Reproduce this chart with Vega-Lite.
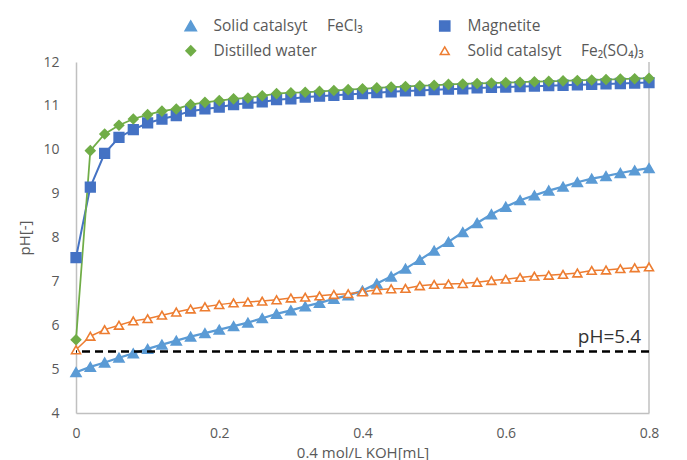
{
 "$schema": "https://vega.github.io/schema/vega-lite/v6.json",
 "width": 573,
 "height": 351,
 "autosize": {"type": "none"},
 "padding": {"left": 76, "top": 62, "right": 38, "bottom": 47},
 "config": {"view": {"stroke": null}, "font": "Open Sans"},
 "data": {"values": [
  {"series": "Solid catalsyt\u2003 FeCl₃", "x": 0, "pH": 4.93},
  {"series": "Solid catalsyt\u2003 FeCl₃", "x": 0.02, "pH": 5.05},
  {"series": "Solid catalsyt\u2003 FeCl₃", "x": 0.04, "pH": 5.15},
  {"series": "Solid catalsyt\u2003 FeCl₃", "x": 0.06, "pH": 5.26},
  {"series": "Solid catalsyt\u2003 FeCl₃", "x": 0.08, "pH": 5.36},
  {"series": "Solid catalsyt\u2003 FeCl₃", "x": 0.1, "pH": 5.46},
  {"series": "Solid catalsyt\u2003 FeCl₃", "x": 0.12, "pH": 5.56},
  {"series": "Solid catalsyt\u2003 FeCl₃", "x": 0.14, "pH": 5.65},
  {"series": "Solid catalsyt\u2003 FeCl₃", "x": 0.16, "pH": 5.74},
  {"series": "Solid catalsyt\u2003 FeCl₃", "x": 0.18, "pH": 5.82},
  {"series": "Solid catalsyt\u2003 FeCl₃", "x": 0.2, "pH": 5.9},
  {"series": "Solid catalsyt\u2003 FeCl₃", "x": 0.22, "pH": 5.98},
  {"series": "Solid catalsyt\u2003 FeCl₃", "x": 0.24, "pH": 6.06},
  {"series": "Solid catalsyt\u2003 FeCl₃", "x": 0.26, "pH": 6.16},
  {"series": "Solid catalsyt\u2003 FeCl₃", "x": 0.28, "pH": 6.26},
  {"series": "Solid catalsyt\u2003 FeCl₃", "x": 0.3, "pH": 6.34},
  {"series": "Solid catalsyt\u2003 FeCl₃", "x": 0.32, "pH": 6.43},
  {"series": "Solid catalsyt\u2003 FeCl₃", "x": 0.34, "pH": 6.51},
  {"series": "Solid catalsyt\u2003 FeCl₃", "x": 0.36, "pH": 6.6},
  {"series": "Solid catalsyt\u2003 FeCl₃", "x": 0.38, "pH": 6.68},
  {"series": "Solid catalsyt\u2003 FeCl₃", "x": 0.4, "pH": 6.79},
  {"series": "Solid catalsyt\u2003 FeCl₃", "x": 0.42, "pH": 6.95},
  {"series": "Solid catalsyt\u2003 FeCl₃", "x": 0.44, "pH": 7.11},
  {"series": "Solid catalsyt\u2003 FeCl₃", "x": 0.46, "pH": 7.29},
  {"series": "Solid catalsyt\u2003 FeCl₃", "x": 0.48, "pH": 7.49},
  {"series": "Solid catalsyt\u2003 FeCl₃", "x": 0.5, "pH": 7.7},
  {"series": "Solid catalsyt\u2003 FeCl₃", "x": 0.52, "pH": 7.9},
  {"series": "Solid catalsyt\u2003 FeCl₃", "x": 0.54, "pH": 8.12},
  {"series": "Solid catalsyt\u2003 FeCl₃", "x": 0.56, "pH": 8.33},
  {"series": "Solid catalsyt\u2003 FeCl₃", "x": 0.58, "pH": 8.53},
  {"series": "Solid catalsyt\u2003 FeCl₃", "x": 0.6, "pH": 8.7},
  {"series": "Solid catalsyt\u2003 FeCl₃", "x": 0.62, "pH": 8.85},
  {"series": "Solid catalsyt\u2003 FeCl₃", "x": 0.64, "pH": 8.96},
  {"series": "Solid catalsyt\u2003 FeCl₃", "x": 0.66, "pH": 9.07},
  {"series": "Solid catalsyt\u2003 FeCl₃", "x": 0.68, "pH": 9.16},
  {"series": "Solid catalsyt\u2003 FeCl₃", "x": 0.7, "pH": 9.26},
  {"series": "Solid catalsyt\u2003 FeCl₃", "x": 0.72, "pH": 9.34},
  {"series": "Solid catalsyt\u2003 FeCl₃", "x": 0.74, "pH": 9.4},
  {"series": "Solid catalsyt\u2003 FeCl₃", "x": 0.76, "pH": 9.47},
  {"series": "Solid catalsyt\u2003 FeCl₃", "x": 0.78, "pH": 9.53},
  {"series": "Solid catalsyt\u2003 FeCl₃", "x": 0.8, "pH": 9.58},
  {"series": "Magnetite", "x": 0, "pH": 7.54},
  {"series": "Magnetite", "x": 0.02, "pH": 9.15},
  {"series": "Magnetite", "x": 0.04, "pH": 9.92},
  {"series": "Magnetite", "x": 0.06, "pH": 10.28},
  {"series": "Magnetite", "x": 0.08, "pH": 10.46},
  {"series": "Magnetite", "x": 0.1, "pH": 10.61},
  {"series": "Magnetite", "x": 0.12, "pH": 10.7},
  {"series": "Magnetite", "x": 0.14, "pH": 10.78},
  {"series": "Magnetite", "x": 0.16, "pH": 10.88},
  {"series": "Magnetite", "x": 0.18, "pH": 10.93},
  {"series": "Magnetite", "x": 0.2, "pH": 10.97},
  {"series": "Magnetite", "x": 0.22, "pH": 11.03},
  {"series": "Magnetite", "x": 0.24, "pH": 11.06},
  {"series": "Magnetite", "x": 0.26, "pH": 11.09},
  {"series": "Magnetite", "x": 0.28, "pH": 11.14},
  {"series": "Magnetite", "x": 0.3, "pH": 11.16},
  {"series": "Magnetite", "x": 0.32, "pH": 11.2},
  {"series": "Magnetite", "x": 0.34, "pH": 11.22},
  {"series": "Magnetite", "x": 0.36, "pH": 11.24},
  {"series": "Magnetite", "x": 0.38, "pH": 11.26},
  {"series": "Magnetite", "x": 0.4, "pH": 11.28},
  {"series": "Magnetite", "x": 0.42, "pH": 11.3},
  {"series": "Magnetite", "x": 0.44, "pH": 11.32},
  {"series": "Magnetite", "x": 0.46, "pH": 11.34},
  {"series": "Magnetite", "x": 0.48, "pH": 11.35},
  {"series": "Magnetite", "x": 0.5, "pH": 11.37},
  {"series": "Magnetite", "x": 0.52, "pH": 11.38},
  {"series": "Magnetite", "x": 0.54, "pH": 11.39},
  {"series": "Magnetite", "x": 0.56, "pH": 11.41},
  {"series": "Magnetite", "x": 0.58, "pH": 11.42},
  {"series": "Magnetite", "x": 0.6, "pH": 11.43},
  {"series": "Magnetite", "x": 0.62, "pH": 11.44},
  {"series": "Magnetite", "x": 0.64, "pH": 11.45},
  {"series": "Magnetite", "x": 0.66, "pH": 11.46},
  {"series": "Magnetite", "x": 0.68, "pH": 11.47},
  {"series": "Magnetite", "x": 0.7, "pH": 11.48},
  {"series": "Magnetite", "x": 0.72, "pH": 11.49},
  {"series": "Magnetite", "x": 0.74, "pH": 11.5},
  {"series": "Magnetite", "x": 0.76, "pH": 11.51},
  {"series": "Magnetite", "x": 0.78, "pH": 11.52},
  {"series": "Magnetite", "x": 0.8, "pH": 11.53},
  {"series": "Distilled water", "x": 0, "pH": 5.67},
  {"series": "Distilled water", "x": 0.02, "pH": 9.98},
  {"series": "Distilled water", "x": 0.04, "pH": 10.36},
  {"series": "Distilled water", "x": 0.06, "pH": 10.56},
  {"series": "Distilled water", "x": 0.08, "pH": 10.7},
  {"series": "Distilled water", "x": 0.1, "pH": 10.8},
  {"series": "Distilled water", "x": 0.12, "pH": 10.88},
  {"series": "Distilled water", "x": 0.14, "pH": 10.93},
  {"series": "Distilled water", "x": 0.16, "pH": 11.03},
  {"series": "Distilled water", "x": 0.18, "pH": 11.08},
  {"series": "Distilled water", "x": 0.2, "pH": 11.12},
  {"series": "Distilled water", "x": 0.22, "pH": 11.16},
  {"series": "Distilled water", "x": 0.24, "pH": 11.18},
  {"series": "Distilled water", "x": 0.26, "pH": 11.23},
  {"series": "Distilled water", "x": 0.28, "pH": 11.28},
  {"series": "Distilled water", "x": 0.3, "pH": 11.3},
  {"series": "Distilled water", "x": 0.32, "pH": 11.31},
  {"series": "Distilled water", "x": 0.34, "pH": 11.33},
  {"series": "Distilled water", "x": 0.36, "pH": 11.35},
  {"series": "Distilled water", "x": 0.38, "pH": 11.37},
  {"series": "Distilled water", "x": 0.4, "pH": 11.39},
  {"series": "Distilled water", "x": 0.42, "pH": 11.41},
  {"series": "Distilled water", "x": 0.44, "pH": 11.43},
  {"series": "Distilled water", "x": 0.46, "pH": 11.44},
  {"series": "Distilled water", "x": 0.48, "pH": 11.46},
  {"series": "Distilled water", "x": 0.5, "pH": 11.47},
  {"series": "Distilled water", "x": 0.52, "pH": 11.49},
  {"series": "Distilled water", "x": 0.54, "pH": 11.5},
  {"series": "Distilled water", "x": 0.56, "pH": 11.51},
  {"series": "Distilled water", "x": 0.58, "pH": 11.52},
  {"series": "Distilled water", "x": 0.6, "pH": 11.53},
  {"series": "Distilled water", "x": 0.62, "pH": 11.54},
  {"series": "Distilled water", "x": 0.64, "pH": 11.55},
  {"series": "Distilled water", "x": 0.66, "pH": 11.56},
  {"series": "Distilled water", "x": 0.68, "pH": 11.57},
  {"series": "Distilled water", "x": 0.7, "pH": 11.58},
  {"series": "Distilled water", "x": 0.72, "pH": 11.59},
  {"series": "Distilled water", "x": 0.74, "pH": 11.6},
  {"series": "Distilled water", "x": 0.76, "pH": 11.61},
  {"series": "Distilled water", "x": 0.78, "pH": 11.62},
  {"series": "Distilled water", "x": 0.8, "pH": 11.63},
  {"series": "Solid catalsyt\u2003 Fe₂(SO₄)₃", "x": 0, "pH": 5.44},
  {"series": "Solid catalsyt\u2003 Fe₂(SO₄)₃", "x": 0.02, "pH": 5.75},
  {"series": "Solid catalsyt\u2003 Fe₂(SO₄)₃", "x": 0.04, "pH": 5.9},
  {"series": "Solid catalsyt\u2003 Fe₂(SO₄)₃", "x": 0.06, "pH": 6.0},
  {"series": "Solid catalsyt\u2003 Fe₂(SO₄)₃", "x": 0.08, "pH": 6.1},
  {"series": "Solid catalsyt\u2003 Fe₂(SO₄)₃", "x": 0.1, "pH": 6.15},
  {"series": "Solid catalsyt\u2003 Fe₂(SO₄)₃", "x": 0.12, "pH": 6.23},
  {"series": "Solid catalsyt\u2003 Fe₂(SO₄)₃", "x": 0.14, "pH": 6.3},
  {"series": "Solid catalsyt\u2003 Fe₂(SO₄)₃", "x": 0.16, "pH": 6.37},
  {"series": "Solid catalsyt\u2003 Fe₂(SO₄)₃", "x": 0.18, "pH": 6.42},
  {"series": "Solid catalsyt\u2003 Fe₂(SO₄)₃", "x": 0.2, "pH": 6.47},
  {"series": "Solid catalsyt\u2003 Fe₂(SO₄)₃", "x": 0.22, "pH": 6.51},
  {"series": "Solid catalsyt\u2003 Fe₂(SO₄)₃", "x": 0.24, "pH": 6.53},
  {"series": "Solid catalsyt\u2003 Fe₂(SO₄)₃", "x": 0.26, "pH": 6.55},
  {"series": "Solid catalsyt\u2003 Fe₂(SO₄)₃", "x": 0.28, "pH": 6.58},
  {"series": "Solid catalsyt\u2003 Fe₂(SO₄)₃", "x": 0.3, "pH": 6.62},
  {"series": "Solid catalsyt\u2003 Fe₂(SO₄)₃", "x": 0.32, "pH": 6.64},
  {"series": "Solid catalsyt\u2003 Fe₂(SO₄)₃", "x": 0.34, "pH": 6.67},
  {"series": "Solid catalsyt\u2003 Fe₂(SO₄)₃", "x": 0.36, "pH": 6.7},
  {"series": "Solid catalsyt\u2003 Fe₂(SO₄)₃", "x": 0.38, "pH": 6.72},
  {"series": "Solid catalsyt\u2003 Fe₂(SO₄)₃", "x": 0.4, "pH": 6.76},
  {"series": "Solid catalsyt\u2003 Fe₂(SO₄)₃", "x": 0.42, "pH": 6.81},
  {"series": "Solid catalsyt\u2003 Fe₂(SO₄)₃", "x": 0.44, "pH": 6.83},
  {"series": "Solid catalsyt\u2003 Fe₂(SO₄)₃", "x": 0.46, "pH": 6.84},
  {"series": "Solid catalsyt\u2003 Fe₂(SO₄)₃", "x": 0.48, "pH": 6.9},
  {"series": "Solid catalsyt\u2003 Fe₂(SO₄)₃", "x": 0.5, "pH": 6.93},
  {"series": "Solid catalsyt\u2003 Fe₂(SO₄)₃", "x": 0.52, "pH": 6.94},
  {"series": "Solid catalsyt\u2003 Fe₂(SO₄)₃", "x": 0.54, "pH": 6.95},
  {"series": "Solid catalsyt\u2003 Fe₂(SO₄)₃", "x": 0.56, "pH": 6.98},
  {"series": "Solid catalsyt\u2003 Fe₂(SO₄)₃", "x": 0.58, "pH": 7.02},
  {"series": "Solid catalsyt\u2003 Fe₂(SO₄)₃", "x": 0.6, "pH": 7.05},
  {"series": "Solid catalsyt\u2003 Fe₂(SO₄)₃", "x": 0.62, "pH": 7.09},
  {"series": "Solid catalsyt\u2003 Fe₂(SO₄)₃", "x": 0.64, "pH": 7.12},
  {"series": "Solid catalsyt\u2003 Fe₂(SO₄)₃", "x": 0.66, "pH": 7.14},
  {"series": "Solid catalsyt\u2003 Fe₂(SO₄)₃", "x": 0.68, "pH": 7.16},
  {"series": "Solid catalsyt\u2003 Fe₂(SO₄)₃", "x": 0.7, "pH": 7.19},
  {"series": "Solid catalsyt\u2003 Fe₂(SO₄)₃", "x": 0.72, "pH": 7.25},
  {"series": "Solid catalsyt\u2003 Fe₂(SO₄)₃", "x": 0.74, "pH": 7.26},
  {"series": "Solid catalsyt\u2003 Fe₂(SO₄)₃", "x": 0.76, "pH": 7.29},
  {"series": "Solid catalsyt\u2003 Fe₂(SO₄)₃", "x": 0.78, "pH": 7.31},
  {"series": "Solid catalsyt\u2003 Fe₂(SO₄)₃", "x": 0.8, "pH": 7.33}
 ]},
 "layer": [
  {
   "data": {"values": [{"edge": 0.8}]},
   "mark": {"type": "rule", "stroke": "#c0c0c0", "strokeWidth": 1.5},
   "encoding": {"x": {"field": "edge", "type": "quantitative", "scale": {"domain": [0, 0.8], "nice": false}}}
  },
  {
   "mark": {"type": "line"},
   "encoding": {
    "x": {"field": "x", "type": "quantitative", "scale": {"domain": [0, 0.8], "nice": false},
     "axis": {"title": "0.4 mol/L KOH[mL]", "values": [0, 0.2, 0.4, 0.6, 0.8], "labelExpr": "format(datum.value, '~g')", "ticks": false, "grid": false, "labelFlush": false, "labelPadding": 13, "labelFontSize": 14, "labelColor": "#595959", "domainColor": "#c0c0c0", "domainWidth": 1.5, "titleFontSize": 15, "titleFontWeight": "normal", "titleColor": "#595959", "titlePadding": 5}},
    "y": {"field": "pH", "type": "quantitative", "scale": {"domain": [4, 12], "nice": false},
     "axis": {"title": "pH[-]", "values": [4, 5, 6, 7, 8, 9, 10, 11, 12], "ticks": false, "grid": false, "labelPadding": 17, "labelFontSize": 14, "labelColor": "#595959", "domainColor": "#c0c0c0", "domainWidth": 1.5, "titleFontSize": 15, "titleFontWeight": "normal", "titleColor": "#595959", "titlePadding": 10}},
    "stroke": {"field": "series", "type": "nominal", "scale": {"domain": ["Solid catalsyt\u2003 FeCl₃", "Magnetite", "Distilled water", "Solid catalsyt\u2003 Fe₂(SO₄)₃"], "range": ["#5B9BD5", "#4472C4", "#70AD47", "#ED7D31"]},
     "legend": {"title": null, "orient": "none", "direction": "horizontal", "legendX": 107, "legendY": -44, "columns": 2, "columnPadding": 72, "rowPadding": 7, "symbolSize": 100, "labelOffset": 15, "labelFontSize": 15.5, "labelColor": "#595959", "labelLimit": 300, "padding": 0}},
    "strokeWidth": {"field": "series", "type": "nominal", "scale": {"domain": ["Solid catalsyt\u2003 FeCl₃", "Magnetite", "Distilled water", "Solid catalsyt\u2003 Fe₂(SO₄)₃"], "range": [2.25, 1.5, 2.5, 2.25]}}
   }
  },
  {
   "mark": {"type": "point", "filled": true, "opacity": 1, "strokeWidth": 1.6},
   "encoding": {
    "x": {"field": "x", "type": "quantitative"},
    "y": {"field": "pH", "type": "quantitative"},
    "stroke": {"field": "series", "type": "nominal"},
    "fill": {"field": "series", "type": "nominal", "scale": {"domain": ["Solid catalsyt\u2003 FeCl₃", "Magnetite", "Distilled water", "Solid catalsyt\u2003 Fe₂(SO₄)₃"], "range": ["#5B9BD5", "#4472C4", "#70AD47", "#ffffff"]}},
    "size": {"field": "series", "type": "nominal", "scale": {"domain": ["Solid catalsyt\u2003 FeCl₃", "Magnetite", "Distilled water", "Solid catalsyt\u2003 Fe₂(SO₄)₃"], "range": [100, 80, 90, 75]}},
    "shape": {"field": "series", "type": "nominal", "scale": {"domain": ["Solid catalsyt\u2003 FeCl₃", "Magnetite", "Distilled water", "Solid catalsyt\u2003 Fe₂(SO₄)₃"], "range": ["triangle-up", "square", "diamond", "triangle-up"]}}
   }
  },
  {
   "data": {"values": [{"limit": 5.4, "label": "pH=5.4"}]},
   "mark": {"type": "rule", "stroke": "#000000", "strokeWidth": 2.5, "strokeDash": [8, 5]},
   "encoding": {"y": {"field": "limit", "type": "quantitative"}}
  },
  {
   "data": {"values": [{"limit": 5.4, "label": "pH=5.4", "edge": 0.8}]},
   "mark": {"type": "text", "align": "right", "baseline": "bottom", "dx": -8, "dy": -5, "fontSize": 19, "fill": "#333333"},
   "encoding": {"y": {"field": "limit", "type": "quantitative"}, "x": {"field": "edge", "type": "quantitative"}, "text": {"field": "label", "type": "nominal"}}
  }
 ]
}
